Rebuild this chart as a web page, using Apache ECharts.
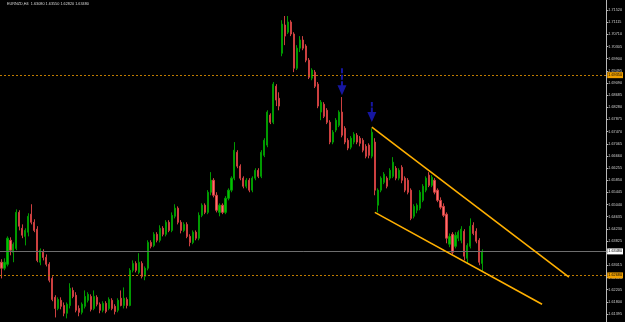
<!DOCTYPE html>
<html>
<head>
<meta charset="utf-8">
<script src="https://cdn.jsdelivr.net/npm/echarts@6.0.0/dist/echarts.min.js"></script>
<style>
html,body{margin:0;padding:0;background:#000;}
#chart{width:625px;height:322px;}
</style>
</head>
<body>
<div id="chart"></div>
<script>
// ---- data (EURNZD, H4) ----
const symbolName = 'EURNZD,H4';
const opens = [
1.6312,1.6292,1.6305,1.6385,1.6345,1.6358,1.6478,1.6425,1.6398,1.6412,
1.6472,1.6445,1.6422,1.6312,1.6345,1.6328,1.6305,1.6258,1.6195,1.6158,
1.6185,1.6168,1.6142,1.6168,1.6218,1.6202,1.6158,1.6145,1.6165,1.6185,
1.6198,1.6158,1.6195,1.6172,1.6152,1.6175,1.6158,1.6185,1.6165,1.6152,
1.6192,1.6168,1.6188,1.6168,1.6285,1.6308,1.6278,1.6308,1.6265,1.6292,
1.6378,1.6368,1.6405,1.6385,1.6425,1.6405,1.6445,1.6418,1.6465,1.6492,
1.6445,1.6418,1.6438,1.6398,1.6378,1.6412,1.6392,1.6468,1.6502,1.6478,
1.6545,1.6585,1.6535,1.6478,1.6502,1.6478,1.6525,1.6552,1.6592,1.6678,
1.6632,1.6592,1.6565,1.6585,1.6552,1.6592,1.6618,1.6598,1.6668,1.6702,
1.6802,1.6778,1.6898,1.6858,1.7008,1.7102,1.7078,1.7112,1.7072,1.6958,
1.7025,1.7052,1.7032,1.6985,1.6925,1.6945,1.6905,1.6812,1.6838,1.6818,
1.6778,1.6712,1.6752,1.6768,1.6812,1.6758,1.6718,1.6695,1.6712,1.6735,
1.6725,1.6718,1.6698,1.6702,1.6665,1.6712,1.6502,1.6552,1.6578,1.6592,
1.6592,1.6598,1.6625,1.6592,1.6628,1.6592,1.6585,1.6552,1.6465,1.6485,
1.6492,1.6518,1.6552,1.6602,1.6568,1.6585,1.6552,1.6518,1.6498,1.6472,
1.6372,1.6405,1.6365,1.6392,1.6385,1.6415,1.6325,1.6365,1.6435,1.6415,
1.6385,1.6308];
const closes = [
1.6292,1.6312,1.6392,1.6352,1.6372,1.6478,1.6432,1.6402,1.6418,1.6465,
1.6445,1.6418,1.6318,1.6352,1.6328,1.6305,1.6252,1.6188,1.6158,1.6188,
1.6165,1.6142,1.6172,1.6225,1.6198,1.6152,1.6145,1.6172,1.6198,1.6205,
1.6155,1.6198,1.6172,1.6152,1.6175,1.6148,1.6188,1.6158,1.6148,1.6185,
1.6168,1.6192,1.6168,1.6285,1.6308,1.6285,1.6312,1.6265,1.6292,1.6378,
1.6365,1.6405,1.6385,1.6425,1.6405,1.6445,1.6418,1.6468,1.6492,1.6445,
1.6418,1.6438,1.6398,1.6378,1.6412,1.6392,1.6468,1.6502,1.6478,1.6545,
1.6585,1.6535,1.6485,1.6502,1.6478,1.6525,1.6552,1.6592,1.6685,1.6632,
1.6592,1.6565,1.6585,1.6552,1.6592,1.6618,1.6598,1.6678,1.6718,1.6812,
1.6778,1.6905,1.6852,1.6832,1.7105,1.7065,1.7112,1.7072,1.6958,1.7025,
1.7052,1.7025,1.6985,1.6928,1.6952,1.6898,1.6832,1.6845,1.6798,1.6778,
1.6712,1.6745,1.6785,1.6812,1.6735,1.6712,1.6692,1.6725,1.6738,1.6712,
1.6708,1.6685,1.6665,1.6668,1.6745,1.6552,1.6552,1.6592,1.6605,1.6565,
1.6618,1.6645,1.6592,1.6618,1.6585,1.6552,1.6545,1.6458,1.6498,1.6502,
1.6545,1.6565,1.6592,1.6568,1.6595,1.6545,1.6518,1.6495,1.6468,1.6392,
1.6398,1.6345,1.6402,1.6412,1.6422,1.6332,1.6368,1.6432,1.6408,1.6382,
1.6312,1.6348];
const lows = [
1.6258,1.6285,1.6298,1.6335,1.6312,1.6352,1.6418,1.6392,1.6368,1.6398,
1.6438,1.6412,1.6312,1.6302,1.6318,1.6298,1.6245,1.6182,1.6128,1.6152,
1.6155,1.6132,1.6125,1.6158,1.6192,1.6145,1.6132,1.6138,1.6158,1.6178,
1.6148,1.6152,1.6165,1.6142,1.6145,1.6142,1.6152,1.6152,1.6138,1.6145,
1.6165,1.6158,1.6158,1.6165,1.6278,1.6278,1.6272,1.6258,1.6252,1.6285,
1.6358,1.6362,1.6378,1.6378,1.6398,1.6398,1.6412,1.6412,1.6458,1.6438,
1.6408,1.6412,1.6392,1.6365,1.6372,1.6385,1.6385,1.6462,1.6472,1.6472,
1.6535,1.6528,1.6478,1.6465,1.6472,1.6472,1.6518,1.6545,1.6585,1.6625,
1.6585,1.6558,1.6558,1.6545,1.6545,1.6585,1.6592,1.6592,1.6662,1.6695,
1.6772,1.6772,1.6832,1.6818,1.6998,1.7035,1.7072,1.7065,1.6945,1.6952,
1.7012,1.7018,1.6978,1.6922,1.6918,1.6892,1.6825,1.6785,1.6792,1.6772,
1.6705,1.6705,1.6745,1.6762,1.6728,1.6705,1.6685,1.6688,1.6705,1.6705,
1.6698,1.6678,1.6658,1.6658,1.6658,1.6535,1.6478,1.6545,1.6572,1.6558,
1.6585,1.6592,1.6585,1.6585,1.6575,1.6545,1.6538,1.6452,1.6458,1.6475,
1.6485,1.6512,1.6545,1.6562,1.6562,1.6538,1.6512,1.6488,1.6462,1.6375,
1.6362,1.6338,1.6358,1.6382,1.6375,1.6318,1.6308,1.6358,1.6402,1.6375,
1.6302,1.6282];
const highs = [
1.6322,1.6325,1.6398,1.6395,1.6378,1.6488,1.6485,1.6438,1.6425,1.6475,
1.6505,1.6455,1.6432,1.6358,1.6355,1.6338,1.6312,1.6265,1.6202,1.6195,
1.6195,1.6178,1.6178,1.6242,1.6228,1.6212,1.6168,1.6178,1.6218,1.6212,
1.6205,1.6218,1.6202,1.6178,1.6182,1.6182,1.6195,1.6192,1.6172,1.6192,
1.6218,1.6228,1.6195,1.6292,1.6318,1.6315,1.6342,1.6315,1.6298,1.6385,
1.6385,1.6412,1.6412,1.6435,1.6432,1.6452,1.6452,1.6478,1.6505,1.6498,
1.6452,1.6445,1.6445,1.6405,1.6418,1.6418,1.6478,1.6508,1.6508,1.6552,
1.6612,1.6592,1.6545,1.6508,1.6508,1.6532,1.6558,1.6598,1.6712,1.6685,
1.6638,1.6598,1.6592,1.6592,1.6598,1.6625,1.6625,1.6685,1.6725,1.6818,
1.6808,1.6912,1.6905,1.6878,1.7118,1.7132,1.7132,1.7118,1.7078,1.7035,
1.7065,1.7065,1.7038,1.6992,1.6958,1.6952,1.6912,1.6852,1.6845,1.6825,
1.6785,1.6752,1.6792,1.6818,1.6862,1.6765,1.6725,1.6732,1.6745,1.6742,
1.6732,1.6725,1.6705,1.6708,1.6758,1.6725,1.6558,1.6598,1.6612,1.6598,
1.6625,1.6662,1.6632,1.6625,1.6635,1.6598,1.6592,1.6558,1.6505,1.6508,
1.6552,1.6572,1.6598,1.6612,1.6602,1.6592,1.6558,1.6528,1.6508,1.6478,
1.6408,1.6412,1.6412,1.6418,1.6432,1.6422,1.6375,1.6458,1.6445,1.6425,
1.6392,1.6355];

// price-scale tick labels (right axis)
const yTicks = [1.61395,1.61800,1.62205,1.62610,1.63015,1.63420,1.63825,1.64230,1.64635,1.65040,
1.65445,1.65850,1.66255,1.66660,1.67065,1.67470,1.67875,1.68280,1.68685,1.69090,
1.69495,1.69900,1.70305,1.70710,1.71115,1.71520];

// horizontal levels drawn by user
const levels = [1.6935, 1.6268];
// channel trend lines: [barIndex, price] pairs
const upperLine = [[123.7, 1.6762], [189.8, 1.6262]];
const lowerLine = [[125.4, 1.6478], [180.5, 1.6172]];
// arrow annotations: [barIndex, price]
const arrows = [[114, 1.6913], [124, 1.6812]];

// ---- build ----
const slotCount = 203;
const categories = [];
for (let i = 0; i < slotCount; i++) categories.push(String(i));
const candles = opens.map((o, i) => [o, closes[i], lows[i], highs[i]]);
while (candles.length < slotCount) candles.push('-');

const last = opens.length - 1;
const bid = closes[last];
const fmt = v => Number(v).toFixed(5);
const header = symbolName + '  ' + fmt(opens[last]) + ' ' + fmt(highs[last]) + ' ' + fmt(lows[last]) + ' ' + fmt(closes[last]);

const pxPrice = (yTicks[1] - yTicks[0]) / 12.16;
const yMax = yTicks[yTicks.length - 1] + 10 * pxPrice;
const yMin = yTicks[0] - 8 * pxPrice;

const arrowBig = 'path://M3.5,0L5.5,0L5.5,5L3.5,5Z M3.5,6.5L5.5,6.5L5.5,11.5L3.5,11.5Z M3.5,13L5.5,13L5.5,17L3.5,17Z M0,17L9,17L4.5,27Z';
const arrowSmall = 'path://M3.5,0L5.5,0L5.5,4.5L3.5,4.5Z M3.5,5.5L5.5,5.5L5.5,10L3.5,10Z M0,10L9,10L4.5,20Z';

const chart = echarts.init(document.getElementById('chart'), null, {renderer: 'canvas'});
const labelFont = {fontSize: 3.8, fontFamily: 'Liberation Sans'};

chart.setOption({
  backgroundColor: '#000000',
  animation: false,
  title: {
    text: header, left: 7, top: 2, padding: 0,
    textStyle: {color: '#d8d8d8', fontSize: 3.8, fontWeight: 'normal', fontFamily: 'Liberation Sans'}
  },
  grid: {left: 0, right: 17, top: 0, bottom: 0},
  xAxis: {
    type: 'category', data: categories, boundaryGap: true,
    axisLine: {show: false}, axisTick: {show: false}, axisLabel: {show: false}, splitLine: {show: false}
  },
  yAxis: {
    type: 'value', position: 'right', min: yMin, max: yMax, scale: true,
    axisLine: {show: true, lineStyle: {color: '#b8b8b8', width: 1}},
    axisTick: {show: true, length: 2, customValues: yTicks, lineStyle: {color: '#b8b8b8'}},
    axisLabel: {show: true, customValues: yTicks, margin: 2, color: '#cfcfcf', formatter: v => fmt(v), ...labelFont},
    splitLine: {show: false}
  },
  series: [{
    type: 'candlestick',
    data: candles,
    barWidth: 1.6,
    clip: false,
    itemStyle: {
      color: '#00c400', color0: '#ff6e6e',
      borderColor: '#009a00', borderColor0: '#cc4040', borderWidth: 1
    },
    markLine: {
      silent: true,
      precision: 5,
      symbol: ['none', 'none'],
      animation: false,
      data: [
        {yAxis: bid, lineStyle: {color: '#6e6e6e', width: 1, type: 'solid'},
         label: {show: true, position: 'end', distance: 1, formatter: p => fmt(p.value), color: '#000', backgroundColor: '#ffffff', padding: [1, 1], ...labelFont}},
        {yAxis: levels[0], lineStyle: {color: '#c07c00', width: 1, type: [2, 2]},
         label: {show: true, position: 'end', distance: 1, formatter: p => fmt(p.value), color: '#000', backgroundColor: '#f0a000', padding: [1, 1], ...labelFont}},
        {yAxis: levels[1], lineStyle: {color: '#c07c00', width: 1, type: [2, 2]},
         label: {show: true, position: 'end', distance: 1, formatter: p => fmt(p.value), color: '#000', backgroundColor: '#f0a000', padding: [1, 1], ...labelFont}},
        [{coord: upperLine[0], lineStyle: {color: '#ffb000', width: 1.6, type: 'solid'}, label: {show: false}},
         {coord: upperLine[1]}],
        [{coord: lowerLine[0], lineStyle: {color: '#ffb000', width: 1.6, type: 'solid'}, label: {show: false}},
         {coord: lowerLine[1]}]
      ]
    },
    markPoint: {
      silent: true,
      precision: 5,
      label: {show: false},
      data: [
        {coord: arrows[0], symbol: arrowBig, symbolSize: [9, 27], itemStyle: {color: '#1616a0'}},
        {coord: arrows[1], symbol: arrowSmall, symbolSize: [9, 20], itemStyle: {color: '#1616a0'}}
      ]
    }
  }]
});
</script>
</body>
</html>
